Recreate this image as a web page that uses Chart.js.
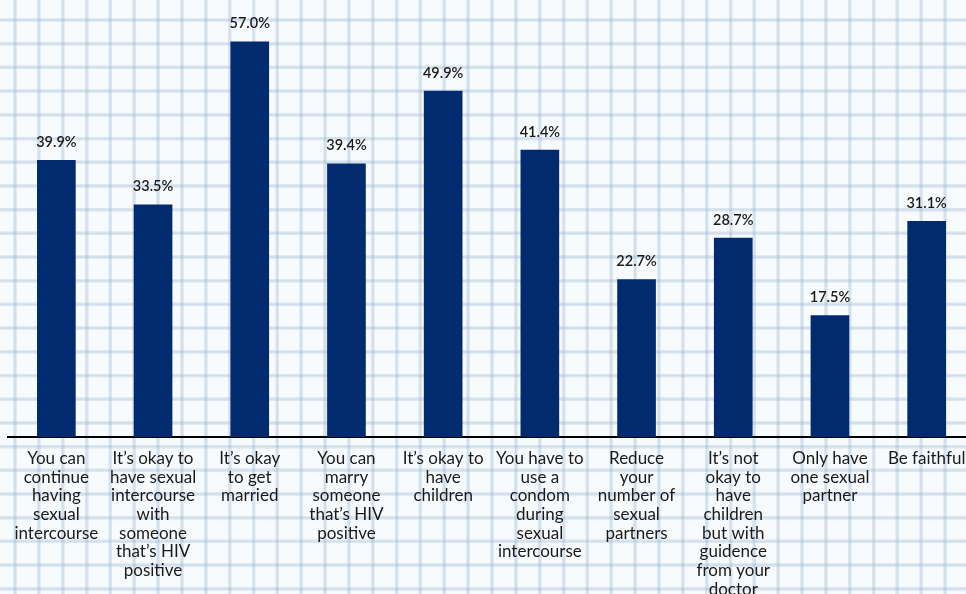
<!DOCTYPE html>
<html>
<head>
<meta charset="utf-8">
<script src="https://cdn.jsdelivr.net/npm/chart.js@4/dist/chart.umd.min.js"></script>
<style>
  html, body { margin: 0; padding: 0; width: 966px; height: 594px; overflow: hidden; }
  body {
    background-color: #f8fbfe;
    /* graph-paper backdrop */
    background-image:
      repeating-linear-gradient(to right, transparent 0, transparent 13px, rgba(150,178,208,0.15) 13px, rgba(150,178,208,0.38) 14.5px, rgba(150,178,208,0.38) 15.5px, rgba(150,178,208,0.15) 17px, transparent 17px, transparent 23.85px),
      repeating-linear-gradient(to bottom, transparent 0, transparent 18px, rgba(150,178,208,0.15) 18px, rgba(150,178,208,0.38) 19.5px, rgba(150,178,208,0.38) 20.5px, rgba(150,178,208,0.15) 22px, transparent 22px, transparent 23.7px);
  }
  #wrap { position: absolute; left: 0; top: 0; width: 975px; height: 594px; }
</style>
</head>
<body>
<div id="wrap"><canvas id="c" width="975" height="594"></canvas></div>
<script>
// Survey statements shown on the x axis (one entry per line)
const categories = [
  ["You can", "continue", "having", "sexual", "intercourse"],
  ["It\u2019s okay to", "have sexual", "intercourse", "with", "someone", "that\u2019s HIV", "positive"],
  ["It\u2019s okay", "to get", "married"],
  ["You can", "marry", "someone", "that\u2019s HIV", "positive"],
  ["It\u2019s okay to", "have", "children"],
  ["You have to", "use a", "condom", "during", "sexual", "intercourse"],
  ["Reduce", "your", "number of", "sexual", "partners"],
  ["It\u2019s not", "okay to", "have", "children", "but with", "guidence", "from your", "doctor"],
  ["Only have", "one sexual", "partner"],
  ["Be faithful"]
];

// Share of respondents (%)
const percentages = [39.9, 33.5, 57.0, 39.4, 49.9, 41.4, 22.7, 28.7, 17.5, 31.1];

const valueLabels = {
  id: 'valueLabels',
  afterDatasetsDraw(chart) {
    const ctx = chart.ctx;
    const meta = chart.getDatasetMeta(0);
    ctx.save();
    ctx.font = '600 14.5px Lato, "Open Sans", sans-serif';
    ctx.fillStyle = '#1a1a1a';
    ctx.textAlign = 'center';
    ctx.textBaseline = 'middle';
    meta.data.forEach((bar, i) => {
      ctx.fillText(percentages[i].toFixed(1) + '%', bar.x, bar.y - 18);
    });
    ctx.restore();
  }
};

new Chart(document.getElementById('c'), {
  type: 'bar',
  data: {
    labels: categories,
    datasets: [{
      data: percentages,
      backgroundColor: '#022b6f',
      barThickness: 38
    }]
  },
  options: {
    responsive: false,
    animation: false,
    layout: { padding: { left: 8, right: 0, top: 21, bottom: 0 } },
    plugins: { legend: { display: false }, tooltip: { enabled: false } },
    scales: {
      x: {
        grid: { display: false },
        border: { display: true, color: '#000000', width: 2 },
        ticks: {
          color: '#1a1a1a',
          font: { family: 'Lato, "Open Sans", sans-serif', size: 17, lineHeight: 1.1 },
          padding: 4,
          maxRotation: 0,
          autoSkip: false
        },
        afterFit(scale) { scale.height = 157; }
      },
      y: {
        display: false,
        min: 0,
        max: 60
      }
    }
  },
  plugins: [valueLabels]
});
</script>
</body>
</html>
